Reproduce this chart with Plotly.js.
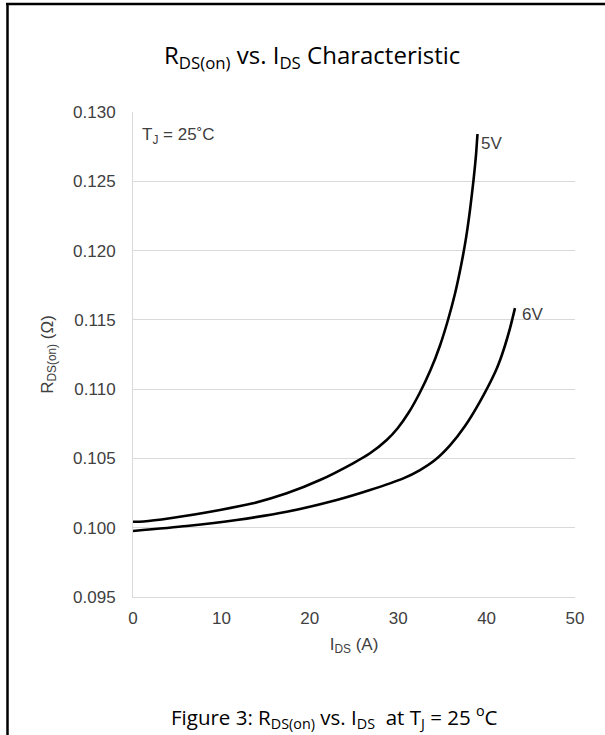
<!DOCTYPE html>
<html>
<head>
<meta charset="utf-8">
<script src="https://cdn.plot.ly/plotly-3.0.1.min.js"></script>
<style>html,body{margin:0;padding:0;background:#fff;}#chart{width:605px;height:735px;}</style>
</head>
<body>
<div id="chart"></div>
<script>
// Drain current I_DS (A) and on-resistance R_DS(on) (Ohm)
const ids5V = [0, 1.2, 4.19, 9.84, 13.57, 17.39, 21.15, 24.89, 26.81, 28.70, 29.94, 31.19, 32.43, 33.68, 34.73, 35.63, 36.43, 37.10, 37.67, 38.12, 38.52, 38.80, 38.97];
const rds5V = [0.10043, 0.10045, 0.10068, 0.10128, 0.10176, 0.10248, 0.10344, 0.10465, 0.10537, 0.10633, 0.10718, 0.10831, 0.10972, 0.11141, 0.11315, 0.11499, 0.11690, 0.11888, 0.12090, 0.12292, 0.12509, 0.12689, 0.12841];
const ids6V = [0, 6.07, 11.73, 17.39, 23.04, 26.81, 30.58, 32.47, 34.16, 35.86, 37.56, 39.25, 40.95, 41.52, 42.08, 42.65, 43.21];
const rds6V = [0.09976, 0.10012, 0.10056, 0.10115, 0.10200, 0.10272, 0.10356, 0.10416, 0.10488, 0.10594, 0.10734, 0.10910, 0.11120, 0.11209, 0.11315, 0.11440, 0.11585];
const seriesNames = ["5V", "6V"];
const xTicks = [0, 10, 20, 30, 40, 50];
const yTicks = [0.095, 0.100, 0.105, 0.110, 0.115, 0.120, 0.125, 0.130];

const lineStyle = {color: "#000000", width: 2.6, shape: "spline", smoothing: 0.7};
const traces = [
  {x: ids5V, y: rds5V, name: seriesNames[0], mode: "lines", line: lineStyle, hoverinfo: "x+y"},
  {x: ids6V, y: rds6V, name: seriesNames[1], mode: "lines", line: lineStyle, hoverinfo: "x+y"}
];

const tickFont = {family: "Liberation Sans, Arial, sans-serif", size: 17, color: "#404040"};
const titleFont = {family: "Liberation Sans, Arial, sans-serif", size: 17, color: "#404040"};
const headFont = {family: "Open Sans, Noto Sans, sans-serif", size: 24, color: "#000000"};
const capFont = {family: "Open Sans, Noto Sans, sans-serif", size: 20.5, color: "#000000"};

const layout = {
  width: 605, height: 735,
  margin: {l: 133, r: 30, t: 112, b: 138},
  paper_bgcolor: "#ffffff", plot_bgcolor: "#ffffff",
  showlegend: false,
  title: {text: "R<sub>DS(on)</sub> vs. I<sub>DS</sub> Characteristic", font: headFont,
          x: 0.516, xref: "container", xanchor: "center", y: 1 - 56/735, yref: "container", yanchor: "middle"},
  xaxis: {
    range: [0, 50], tickvals: xTicks, ticktext: xTicks.map(String),
    showgrid: false, zeroline: false, showline: true, linecolor: "#d9d9d9", linewidth: 1,
    ticks: "", tickfont: tickFont, ticklabelstandoff: 6, fixedrange: true,
    title: {text: "I<sub>DS</sub> (A)", font: titleFont, standoff: 10}
  },
  yaxis: {
    range: [0.095, 0.130], tickvals: yTicks, ticktext: yTicks.map(v => v.toFixed(3)),
    showgrid: true, gridcolor: "#d9d9d9", gridwidth: 1, zeroline: false,
    showline: true, linecolor: "#d9d9d9", linewidth: 1,
    ticks: "", tickfont: tickFont, ticklabelstandoff: 13, fixedrange: true,
    title: {text: "R<sub>DS(on)</sub> (Ω)", font: titleFont, standoff: 15}
  },
  annotations: [
    {xref: "paper", yref: "paper", x: 0.015, y: 0.951, xanchor: "left", yanchor: "middle",
     text: "T<sub>J</sub> = 25˚C", showarrow: false, font: tickFont},
    {xref: "x", yref: "y", x: ids5V[ids5V.length-1], y: rds5V[rds5V.length-1], xanchor: "left", yanchor: "top",
     xshift: 2, yshift: 2, text: seriesNames[0], showarrow: false, font: tickFont},
    {xref: "x", yref: "y", x: ids6V[ids6V.length-1], y: rds6V[rds6V.length-1], xanchor: "left", yanchor: "middle",
     xshift: 5, yshift: -6, text: seriesNames[1], showarrow: false, font: tickFont},
    {xref: "paper", yref: "paper", x: (334-133)/442, y: (597-717)/485, xanchor: "center", yanchor: "middle",
     text: "Figure 3: R<sub>DS(on)</sub> vs. I<sub>DS</sub>  at T<sub>J</sub> = 25 <sup>o</sup>C", showarrow: false, font: capFont}
  ],
  shapes: [
    {type: "line", xref: "paper", yref: "paper", x0: (7.5-133)/442, x1: (7.5-133)/442, y0: (597-3)/485, y1: (597-736)/485,
     line: {color: "#000000", width: 2.5}},
    {type: "line", xref: "paper", yref: "paper", x0: (6-133)/442, x1: (606-133)/442, y0: (597-4)/485, y1: (597-4)/485,
     line: {color: "#000000", width: 2.5}}
  ]
};

Plotly.newPlot("chart", traces, layout, {displayModeBar: false, staticPlot: true});
</script>
</body>
</html>
